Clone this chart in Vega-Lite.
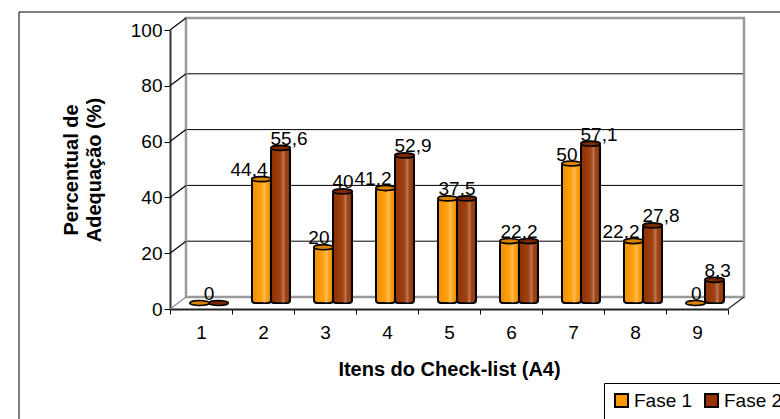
{
  "$schema": "https://vega.github.io/schema/vega-lite/v6.json",
  "width": 558,
  "height": 279,
  "autosize": {"type": "none"},
  "padding": {"left": 178, "top": 24, "right": 44, "bottom": 116},
  "background": "white",
  "config": {
    "font": "Liberation Sans",
    "view": {"stroke": null},
    "locale": {
      "number": {"decimal": ",", "thousands": ".", "grouping": [3], "currency": ["R$ ", ""]}
    }
  },
  "datasets": {
    "adequacao": [
      {"item": "1", "fase": "Fase 1", "valor": 0},
      {"item": "1", "fase": "Fase 2", "valor": 0},
      {"item": "2", "fase": "Fase 1", "valor": 44.4},
      {"item": "2", "fase": "Fase 2", "valor": 55.6},
      {"item": "3", "fase": "Fase 1", "valor": 20},
      {"item": "3", "fase": "Fase 2", "valor": 40},
      {"item": "4", "fase": "Fase 1", "valor": 41.2},
      {"item": "4", "fase": "Fase 2", "valor": 52.9},
      {"item": "5", "fase": "Fase 1", "valor": 37.5},
      {"item": "5", "fase": "Fase 2", "valor": 37.5},
      {"item": "6", "fase": "Fase 1", "valor": 22.2},
      {"item": "6", "fase": "Fase 2", "valor": 22.2},
      {"item": "7", "fase": "Fase 1", "valor": 50},
      {"item": "7", "fase": "Fase 2", "valor": 57.1},
      {"item": "8", "fase": "Fase 1", "valor": 22.2},
      {"item": "8", "fase": "Fase 2", "valor": 27.8},
      {"item": "9", "fase": "Fase 1", "valor": 0},
      {"item": "9", "fase": "Fase 2", "valor": 8.3}
    ],
    "marcas": [{"v": 0}, {"v": 20}, {"v": 40}, {"v": 60}, {"v": 80}, {"v": 100}]
  },
  "layer": [
    {
      "layer": [
        {
          "data": {"values": [{}]},
          "mark": {"type": "rect", "fill": null, "stroke": "#000", "strokeWidth": 1,
                   "xOffset": -159, "x2Offset": 80, "yOffset": -12, "y2Offset": 140},
          "encoding": {
            "x": {"datum": 0, "type": "quantitative", "scale": {"domain": [0, 1]}, "axis": null},
            "x2": {"datum": 1},
            "y": {"datum": 100, "type": "quantitative"},
            "y2": {"datum": 0}
          }
        },
        {
          "data": {"name": "marcas"},
          "transform": [{"filter": "datum.v > 0 && datum.v < 100"}],
          "mark": {"type": "rule", "color": "#000", "strokeWidth": 1, "xOffset": 8, "x2Offset": 8, "yOffset": -6, "y2Offset": -6},
          "encoding": {
            "x": {"datum": 0, "type": "quantitative", "scale": {"domain": [0, 1]}, "axis": null},
            "x2": {"datum": 1},
            "y": {"field": "v", "type": "quantitative"},
            "y2": {"field": "v"}
          }
        },
        {
          "data": {"values": [{}]},
          "mark": {"type": "rect", "fill": null, "stroke": "#9a9a9a", "strokeWidth": 2.5,
                   "xOffset": 8, "x2Offset": 8, "yOffset": -6, "y2Offset": -6},
          "encoding": {
            "x": {"datum": 0, "type": "quantitative", "scale": {"domain": [0, 1]}, "axis": null},
            "x2": {"datum": 1},
            "y": {"datum": 100, "type": "quantitative"},
            "y2": {"datum": 0}
          }
        },
        {
          "data": {"name": "marcas"},
          "mark": {"type": "rule", "strokeWidth": 1.2, "xOffset": -8, "x2Offset": 8, "yOffset": 6, "y2Offset": -6},
          "encoding": {
            "x": {"datum": 0, "type": "quantitative", "scale": {"domain": [0, 1]}, "axis": null},
            "x2": {"datum": 0},
            "y": {"field": "v", "type": "quantitative"},
            "y2": {"field": "v"},
            "color": {"condition": {"test": "datum.v === 0", "value": "#8a8a8a"}, "value": "#000"}
          }
        },
        {
          "data": {"values": [{}]},
          "mark": {"type": "rule", "color": "#333", "strokeWidth": 1.5, "xOffset": -8, "x2Offset": 8, "yOffset": 6, "y2Offset": -6},
          "encoding": {
            "x": {"datum": 1, "type": "quantitative", "scale": {"domain": [0, 1]}, "axis": null},
            "x2": {"datum": 1},
            "y": {"datum": 0, "type": "quantitative"},
            "y2": {"datum": 0}
          }
        }
      ]
    },
    {
      "data": {"name": "adequacao"},
      "transform": [
        {"joinaggregate": [{"op": "distinct", "field": "valor", "as": "nvals"}], "groupby": ["item"]}
      ],
      "encoding": {
        "x": {
          "field": "item", "type": "nominal",
          "scale": {"type": "band", "domain": ["1", "2", "3", "4", "5", "6", "7", "8", "9"], "paddingInner": 0, "paddingOuter": 0},
          "axis": {
            "title": "Itens do Check-list (A4)",
            "titleFontSize": 20, "titleFontWeight": "bold", "titleColor": "#000", "titlePadding": 17,
            "labelAngle": 0, "labelFontSize": 19, "labelColor": "#000", "labelPadding": 9,
            "tickSize": 5, "tickColor": "#000", "tickBand": "extent",
            "domainColor": "#222", "domainWidth": 2,
            "translate": -7.5, "offset": 14
          }
        },
        "xOffset": {
          "field": "fase", "type": "nominal",
          "scale": {"domain": ["Fase 1", "Fase 2"], "paddingInner": 0, "paddingOuter": 0.63}
        },
        "y": {
          "field": "valor", "type": "quantitative",
          "scale": {"domain": [0, 100]},
          "axis": {
            "values": [0, 20, 40, 60, 80, 100], "grid": false,
            "title": ["Percentual de", "Adequação (%)"],
            "titleFontSize": 20, "titleFontWeight": "bold", "titleColor": "#000",
            "titleLineHeight": 23, "titlePadding": 26,
            "labelFontSize": 19, "labelColor": "#000", "labelPadding": 2,
            "tickSize": 6, "tickColor": "#000",
            "domainColor": "#333", "domainWidth": 2,
            "translate": 6.5, "offset": 14
          }
        }
      },
      "layer": [
        {
          "mark": {"type": "bar", "stroke": "#000", "strokeWidth": 2, "cornerRadius": 3},
          "encoding": {
            "color": {
              "field": "fase", "type": "nominal",
              "scale": {"domain": ["Fase 1", "Fase 2"], "range": ["#FF9900", "#993300"]},
              "legend": {
                "title": null, "orient": "none", "legendX": 426, "legendY": 359,
                "direction": "horizontal", "padding": 8,
                "strokeColor": "#000", "fillColor": "#fff", "cornerRadius": 0,
                "symbolType": "square", "symbolSize": 169, "symbolStrokeColor": "#000",
                "symbolStrokeWidth": 2, "symbolOpacity": 1,
                "labelFontSize": 19, "labelColor": "#000", "labelOffset": 3, "columnPadding": 8
              }
            }
          }
        },
        {
          "mark": {
            "type": "bar", "cornerRadius": 3,
            "fill": {
              "gradient": "linear", "x1": 0, "x2": 1, "y1": 0, "y2": 0,
              "stops": [
                {"offset": 0, "color": "rgba(0,0,0,0.06)"},
                {"offset": 0.5, "color": "rgba(255,255,255,0.08)"},
                {"offset": 0.66, "color": "rgba(255,255,255,0.32)"},
                {"offset": 0.78, "color": "rgba(255,255,255,0.05)"},
                {"offset": 1, "color": "rgba(0,0,0,0.22)"}
              ]
            }
          }
        },
        {
          "mark": {
            "type": "point", "filled": true, "size": 380, "opacity": 1,
            "shape": "M -1 0 A 1 0.26 0 1 0 1 0 A 1 0.26 0 1 0 -1 0 Z",
            "stroke": "#000", "strokeWidth": 1.6
          },
          "encoding": {
            "fill": {
              "field": "fase", "type": "nominal",
              "scale": {"domain": ["Fase 1", "Fase 2"], "range": ["#D98200", "#7A2800"]},
              "legend": null
            }
          }
        },
        {
          "transform": [{"filter": "datum.nvals == 2 && datum.fase == 'Fase 1'"}],
          "mark": {"type": "text", "align": "right", "baseline": "alphabetic", "dx": 6, "dy": -3, "fontSize": 19, "color": "#000"},
          "encoding": {"text": {"field": "valor", "type": "quantitative", "format": ".3~g"}}
        },
        {
          "transform": [{"filter": "datum.nvals == 2 && datum.fase == 'Fase 2'"}],
          "mark": {"type": "text", "align": "left", "baseline": "alphabetic", "dx": -10, "dy": -3, "fontSize": 19, "color": "#000"},
          "encoding": {"text": {"field": "valor", "type": "quantitative", "format": ".3~g"}}
        },
        {
          "transform": [{"filter": "datum.nvals == 1 && datum.fase == 'Fase 1'"}],
          "mark": {"type": "text", "align": "center", "baseline": "alphabetic", "dx": 0, "dy": -3, "fontSize": 19, "color": "#000"},
          "encoding": {
            "xOffset": null,
            "text": {"field": "valor", "type": "quantitative", "format": ".3~g"}
          }
        }
      ]
    }
  ],
  "resolve": {"scale": {"x": "independent"}}
}
